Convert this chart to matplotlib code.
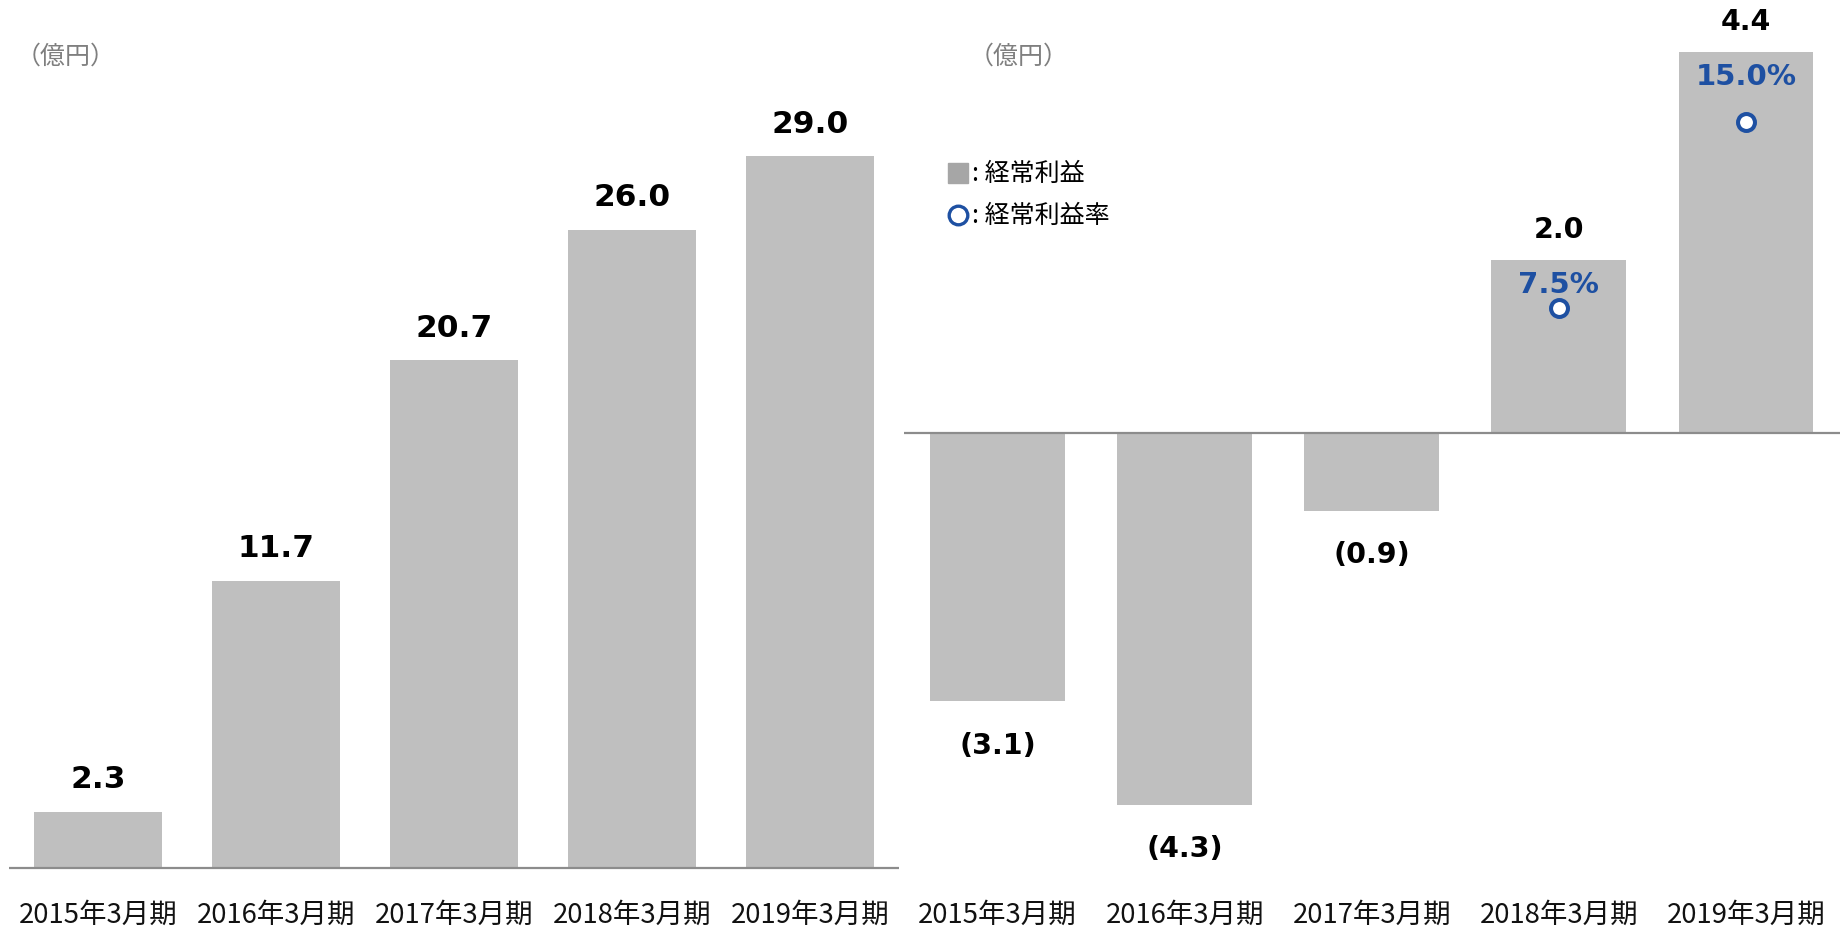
import matplotlib
matplotlib.use("Agg")
import matplotlib.pyplot as plt
from matplotlib.lines import Line2D

# ---- data -------------------------------------------------------------
periods = ["2015年3月期", "2016年3月期", "2017年3月期", "2018年3月期", "2019年3月期"]
sales = [2.3, 11.7, 20.7, 26.0, 29.0]                 # 売上高（億円）
ordinary_profit = [-3.1, -4.3, -0.9, 2.0, 4.4]        # 経常利益（億円）
profit_margin = [None, None, None, 7.5, 15.0]         # 経常利益率（%）

# ---- style ------------------------------------------------------------
BAR = "#BFBFBF"
AXIS = "#8C8C8C"
BLUE = "#1E50A2"
GRAY_TXT = "#7F7F7F"
CJK = ["Noto Sans CJK JP", "DejaVu Sans"]
NUM = ["DejaVu Sans"]

W, H = 1843, 928
fig = plt.figure(figsize=(W / 100, H / 100), dpi=100)


def fx(px):
    return px / W


def fy(py):
    return 1 - py / H


def fmt(v):
    return f"({abs(v):.1f})" if v < 0 else f"{v:.1f}"


def setup(ax):
    for s in ax.spines.values():
        s.set_visible(False)
    ax.set_xticks([])
    ax.set_yticks([])
    ax.set_xlim(-0.5, len(periods) - 0.5)
    ax.patch.set_alpha(0)


def period_labels(ax):
    for i, p in enumerate(periods):
        ax.text(i, fy(915.5), p, transform=ax.get_xaxis_transform(),
                ha="center", va="center", fontsize=19.8, family=CJK, color="#111111")


# ---- left panel: sales ------------------------------------------------
axL = fig.add_axes([fx(9.4), 0, fx(899 - 9.4), 1])
setup(axL)
sL = 24.55  # px per unit
axL.set_ylim(-(H - 869) / sL, 869 / sL)
x = list(range(len(periods)))
axL.bar(x, sales, width=0.72, color=BAR, zorder=2)
axL.axhline(0, color=AXIS, lw=1.6, zorder=3)
for i, v in enumerate(sales):
    axL.annotate(fmt(v), (i, v), xytext=(0, 17.5), textcoords="offset points",
                 ha="center", va="baseline", fontsize=22.5, fontweight="bold",
                 family=NUM, color="black")
period_labels(axL)

# ---- right panel: ordinary profit & margin ----------------------------
axR = fig.add_axes([fx(904), 0, fx(1839.5 - 904), 1])
setup(axR)
sR = 86.6
axR.set_ylim(-(H - 433.7) / sR, 433.7 / sR)
axR.bar(x, ordinary_profit, width=0.72, color=BAR, zorder=2)
axR.axhline(0, color=AXIS, lw=1.6, zorder=3)
for i, v in enumerate(ordinary_profit):
    if v >= 0:
        axR.annotate(fmt(v), (i, v), xytext=(0, 16), textcoords="offset points",
                     ha="center", va="baseline", fontsize=20.5, fontweight="bold",
                     family=NUM, color="black")
    else:
        axR.annotate(fmt(v), (i, v), xytext=(0, -37), textcoords="offset points",
                     ha="center", va="baseline", fontsize=20.5, fontweight="bold",
                     family=NUM, color="black")
period_labels(axR)

axM = axR.twinx()
setup(axM)
sM = 24.8
axM.set_ylim(-(H - 495) / sM, 495 / sM)
mx = [i for i, m in enumerate(profit_margin) if m is not None]
my = [m for m in profit_margin if m is not None]
axM.plot(mx, my, linestyle="none", marker="o", markersize=12.2,
         markerfacecolor="white", markeredgecolor=BLUE, markeredgewidth=2.9, zorder=5)
for i in mx:
    axR.annotate(f"{profit_margin[i]:.1f}%", (i, ordinary_profit[i]), xytext=(0, -23.5),
                 textcoords="offset points", ha="center", va="baseline",
                 fontsize=21, fontweight="bold", family=NUM, color=BLUE, zorder=6)

# ---- unit captions ----------------------------------------------------
fig.text(fx(16), fy(57), "（億円）", fontsize=18, family=CJK, color=GRAY_TXT,
         ha="left", va="center")
fig.text(fx(969), fy(57), "（億円）", fontsize=18, family=CJK, color=GRAY_TXT,
         ha="left", va="center")

# ---- legend -----------------------------------------------------------
fig.add_artist(Line2D([fx(958)], [fy(174)], transform=fig.transFigure, marker="s",
                      markersize=14.4, color="#A6A6A6", linestyle="none"))
fig.add_artist(Line2D([fx(958)], [fy(216)], transform=fig.transFigure, marker="o",
                      markersize=13.4, markerfacecolor="white", markeredgecolor=BLUE,
                      markeredgewidth=2.4, linestyle="none"))
fig.text(fx(972), fy(174), ": 経常利益", fontsize=18, family=CJK, color="black",
         ha="left", va="center")
fig.text(fx(972), fy(216), ": 経常利益率", fontsize=18, family=CJK, color="black",
         ha="left", va="center")

fig.savefig("out.png", dpi=100)
